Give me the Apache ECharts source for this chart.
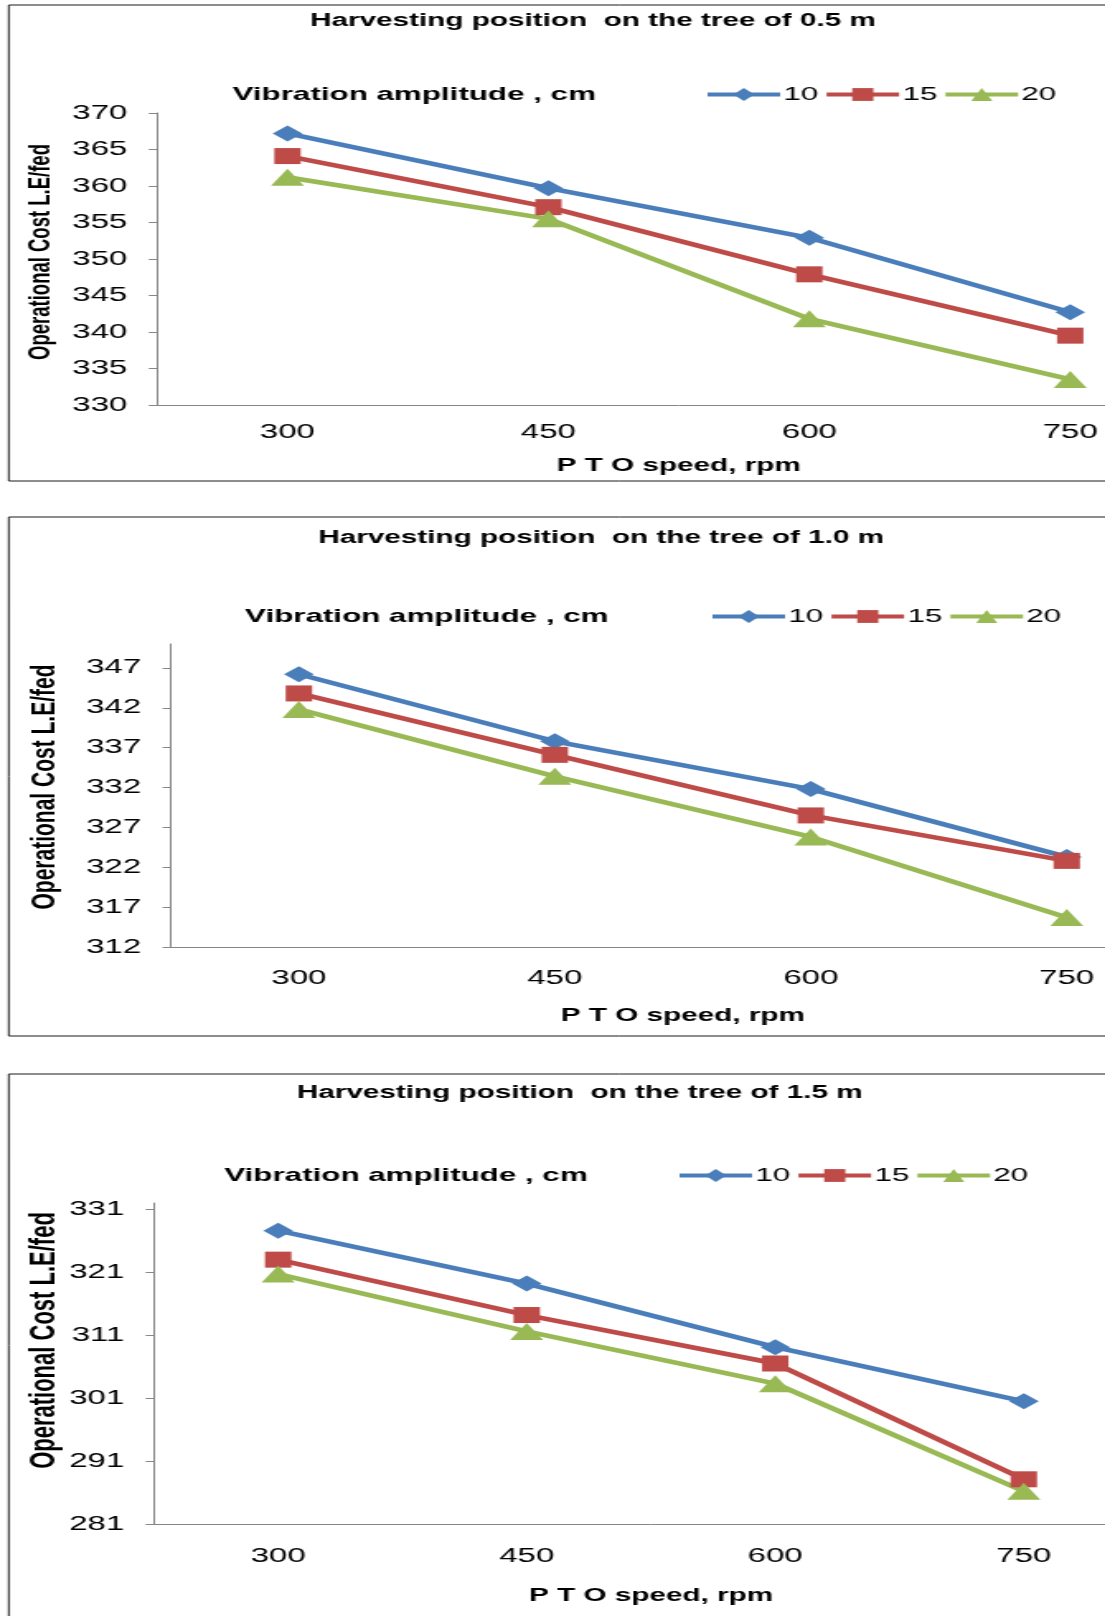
<!DOCTYPE html>
<html>
<head>
<meta charset="utf-8">
<script src="https://cdn.jsdelivr.net/npm/echarts@6/dist/echarts.min.js"></script>
<style>
html, body { margin: 0; padding: 0; background: #fff; overflow: hidden; width: 1105px; height: 1616px; }
/* the source picture is stretched sideways, so the chart is drawn narrow and widened;
   the plots run past the right edge, so the canvas is wider than the page and clipped */
#chart { width: 760px; height: 1616px; transform: scaleX(1.6493); transform-origin: 0 0; }
</style>
</head>
<body>
<div id="chart"></div>
<script>
'use strict';

var speeds = ['300', '450', '600', '750'];
var amplitudes = ['10', '15', '20'];

/* harvesting position 0.5 m */
var cost05_10 = [367.2, 359.7, 352.9, 342.7];
var cost05_15 = [364.1, 357.1, 347.9, 339.5];
var cost05_20 = [361.2, 355.5, 341.8, 333.5];

/* harvesting position 1.0 m */
var cost10_10 = [346.2, 337.8, 331.8, 323.3];
var cost10_15 = [343.8, 336.1, 328.5, 322.8];
var cost10_20 = [341.8, 333.4, 325.8, 315.7];

/* harvesting position 1.5 m */
var cost15_10 = [327.6, 319.2, 309.1, 300.5];
var cost15_15 = [323.0, 314.2, 306.5, 288.1];
var cost15_20 = [320.7, 311.6, 303.3, 286.2];

var ticks05 = [330, 335, 340, 345, 350, 355, 360, 365, 370];
var ticks10 = [312, 317, 322, 327, 332, 337, 342, 347];
var ticks15 = [281, 291, 301, 311, 321, 331];

var titles = [
	'Harvesting position  on the tree of 0.5 m',
	'Harvesting position  on the tree of 1.0 m',
	'Harvesting position  on the tree of 1.5 m'
];

var font = "'Liberation Sans', Arial, sans-serif";
var colors = ['#4A7EBB', '#BE4B48', '#98B954'];
var symbols = ['diamond', 'rect', 'triangle'];
var symbolSizes = [[18, 16], [16, 16], [20, 17]];
var axisGrey = '#868686';

var panels = [
	{ values: [cost05_10, cost05_15, cost05_20], ticks: ticks05, min: 330, max: 370,
	  grid: { left: 95.2, right: 32, top: 113, bottom: 1211 },
	  frame: [5, 481], titleLeft: 188, titleTop: 12, legendTitleLeft: 141, legendLeft: 427, legendTop: 85,
	  labelMargin: 17, nameGap: 52, yNameSize: 18.5, yNameGap: 61, yNameShift: 14 },
	{ values: [cost10_10, cost10_15, cost10_20], ticks: ticks10, min: 312, max: 350,
	  grid: { left: 103.6, right: 35.6, top: 644, bottom: 669 },
	  frame: [517, 1036], titleLeft: 193, titleTop: 529, legendTitleLeft: 148.6, legendLeft: 430, legendTop: 607,
	  labelMargin: 21, nameGap: 60, yNameSize: 21, yNameGap: 66, yNameShift: 17 },
	{ values: [cost15_10, cost15_15, cost15_20], ticks: ticks15, min: 281, max: 332,
	  grid: { left: 93.3, right: 63.9, top: 1203, bottom: 92 },
	  frame: [1074, 1640], titleLeft: 180, titleTop: 1084, legendTitleLeft: 136, legendLeft: 410, legendTop: 1166,
	  labelMargin: 22, nameGap: 63, yNameSize: 22, yNameGap: 55, yNameShift: 46 }
];

var option = {
	backgroundColor: '#ffffff',
	animation: false,
	title: [],
	legend: [],
	grid: [],
	xAxis: [],
	yAxis: [],
	series: [],
	graphic: []
};

panels.forEach(function(p, i) {
	option.graphic.push({
		type: 'rect',
		silent: true,
		shape: { x: 5.3, y: p.frame[0], width: 740, height: p.frame[1] - p.frame[0] },
		style: { fill: 'none', stroke: '#1a1a1a', lineWidth: 1 }
	});
	option.title.push({
		text: titles[i],
		left: p.titleLeft,
		top: p.titleTop,
		padding: 0,
		textStyle: { fontFamily: font, fontSize: 18, fontWeight: 'bold', color: '#000' }
	});
	option.title.push({
		text: 'Vibration amplitude , cm',
		left: p.legendTitleLeft,
		top: p.legendTop,
		padding: 0,
		textStyle: { fontFamily: font, fontSize: 19, fontWeight: 'bold', color: '#000' }
	});
	option.legend.push({
		data: amplitudes,
		left: p.legendLeft,
		top: p.legendTop,
		padding: 0,
		itemWidth: 44,
		itemHeight: 16,
		itemGap: 3,
		lineStyle: { width: 4 },
		textStyle: { fontFamily: font, fontSize: 19, color: '#000', padding: [0, 0, 0, -3] }
	});
	option.grid.push(p.grid);
	option.xAxis.push({
		type: 'category',
		gridIndex: i,
		data: speeds,
		boundaryGap: true,
		name: 'P T O speed, rpm',
		nameLocation: 'middle',
		nameGap: p.nameGap,
		nameTextStyle: { fontFamily: font, fontSize: 18, fontWeight: 'bold', color: '#000' },
		axisLine: { lineStyle: { color: axisGrey, width: 1 } },
		axisTick: { alignWithLabel: false, length: 5, lineStyle: { color: axisGrey } },
		axisLabel: { margin: p.labelMargin, fontFamily: font, fontSize: 20, color: '#000' },
		splitLine: { show: false }
	});
	option.yAxis.push({
		type: 'value',
		gridIndex: i,
		min: p.min,
		max: p.max,
		name: 'Operational Cost L.E/fed',
		nameLocation: 'middle',
		nameRotate: 90,
		nameGap: p.yNameGap,
		nameMoveOverlap: false,
		nameTextStyle: {
			fontFamily: font, fontSize: p.yNameSize, fontWeight: 'bold', color: '#000',
			padding: [0, 0, 0, p.yNameShift]
		},
		axisLine: { show: true, lineStyle: { color: axisGrey, width: 1 } },
		axisTick: { show: true, length: 5, customValues: p.ticks, lineStyle: { color: axisGrey } },
		axisLabel: { margin: 18, customValues: p.ticks, fontFamily: font, fontSize: 20, color: '#000' },
		splitLine: { show: false }
	});
	amplitudes.forEach(function(a, k) {
		option.series.push({
			name: a,
			type: 'line',
			xAxisIndex: i,
			yAxisIndex: i,
			data: p.values[k],
			symbol: symbols[k],
			symbolSize: symbolSizes[k],
			color: colors[k],
			lineStyle: { width: 4.5, color: colors[k] },
			itemStyle: { color: colors[k] }
		});
	});
});

var chart = echarts.init(document.getElementById('chart'));
chart.setOption(option);
window.addEventListener('resize', function() {
	chart.resize();
});
</script>
</body>
</html>
